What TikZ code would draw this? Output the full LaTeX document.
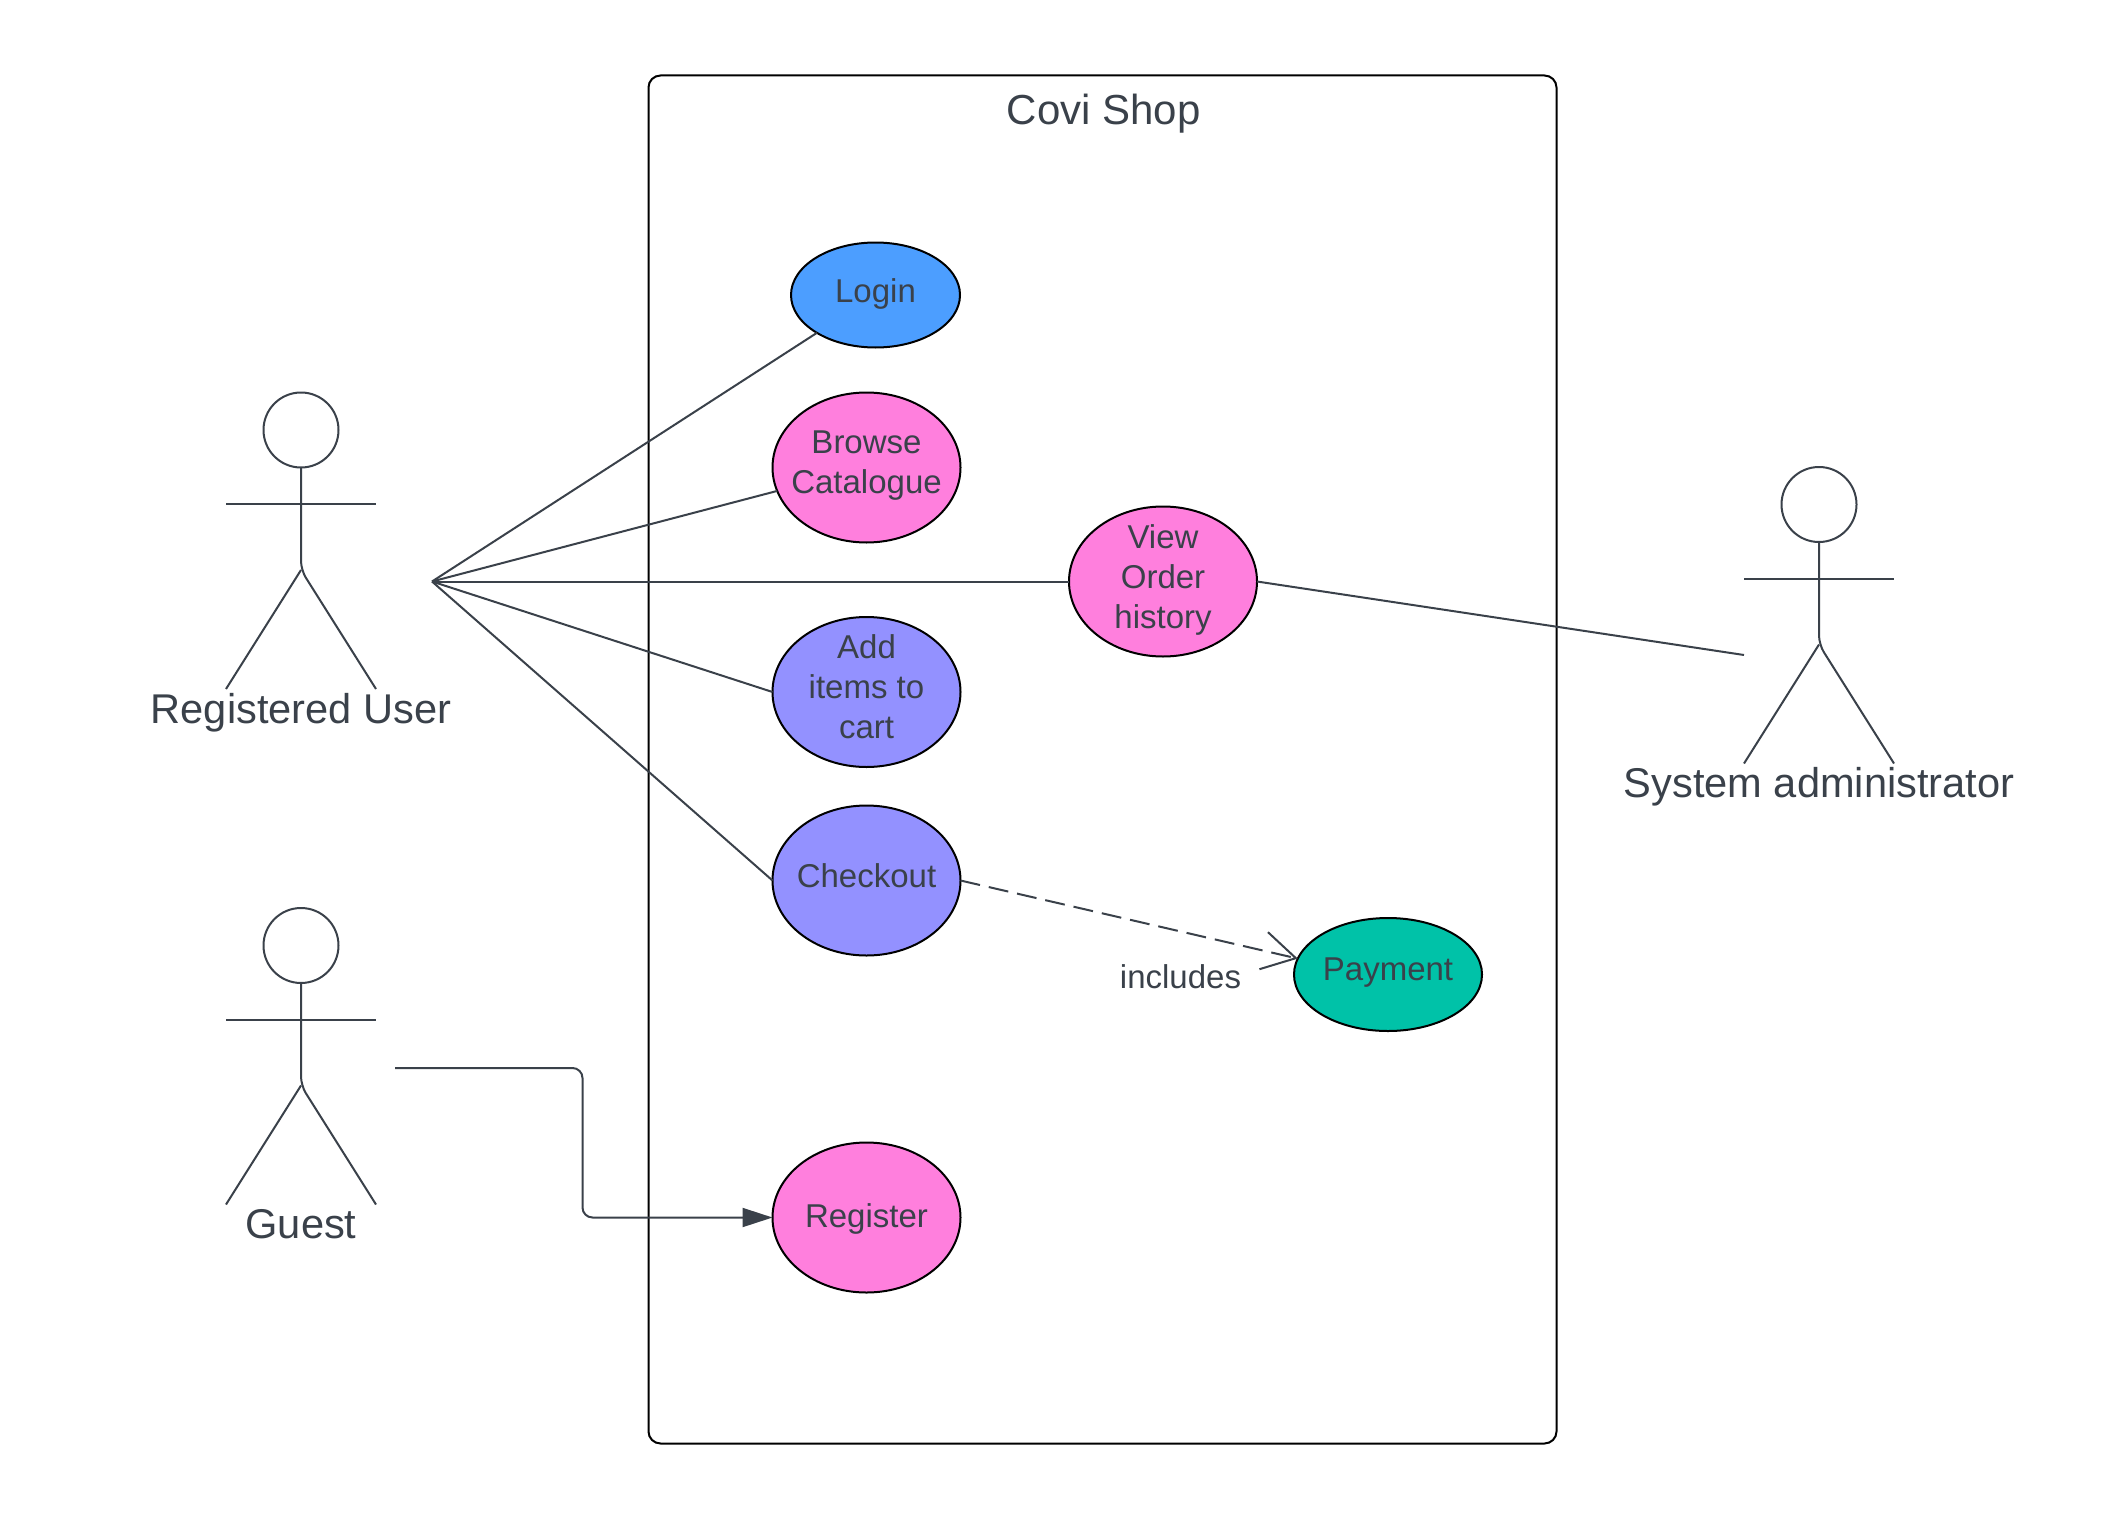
\documentclass[tikz,border=0pt]{standalone}
\usepackage{fontspec}
\setmainfont{Liberation Sans}
\usetikzlibrary{shapes.geometric,arrows.meta}
\definecolor{ink}{HTML}{3A414A}
\definecolor{pinkuc}{HTML}{FF7FDD}
\definecolor{blueuc}{HTML}{4C9EFF}
\definecolor{purpleuc}{HTML}{9391FF}
\definecolor{tealuc}{HTML}{00C2A8}
\newcommand\lineprop{\rule[-10pt]{0pt}{34pt}}
\newcommand\actor[4]{%
  \node[actorhead] (#1) at (#2,#3) {};
  \coordinate (#1hand1) at (#2-75,#3+74);
  \coordinate (#1hand2) at (#2+75,#3+74);
  \coordinate (#1hip) at (#2,#3+140);
  \coordinate (#1foot1) at (#2-75,#3+259);
  \coordinate (#1foot2) at (#2+75,#3+259);
  \draw[link] (#1hand1) -- (#1hand2);
  \draw[link,rounded corners=9] (#1.south) -- (#1hip) -- (#1foot2);
  \draw[link] (#1hip) -- (#1foot1);
  \node[actorname] (#1name) at (#2,#3+293) {#4};
}
\tikzset{
  link/.style={draw=ink,line width=2pt},
  usecase/.style={ellipse,draw=black,line width=2pt,inner sep=-40pt,outer sep=0pt,
    text=ink,align=center,font=\fontsize{33}{40}\selectfont,
    execute at begin node=\lineprop,execute at end node=\lineprop},
  actorhead/.style={circle,draw=ink,line width=2pt,minimum size=75pt,inner sep=0pt,outer sep=0pt},
  actorname/.style={anchor=base,text=ink,inner sep=0pt,font=\fontsize{41.6}{48}\selectfont},
  system/.style={draw=black,line width=2pt,rounded corners=12},
  title/.style={text=ink,inner sep=0pt,anchor=base,font=\fontsize{42}{48}\selectfont},
  edgelabel/.style={text=ink,inner sep=0pt,anchor=base,font=\fontsize{33}{40}\selectfont},
}
\begin{document}
\begin{tikzpicture}[x=1pt,y=-1pt]
\useasboundingbox (0,0) rectangle (2119,1517);
\draw[system] (648.5,75.5) rectangle (1556.5,1443.5);
\node[title] (shop) at (1103.8,125) {Covi Shop};
\node[usecase,fill=blueuc,minimum width=169pt,minimum height=105pt] (login) at (875.5,295) {Login};
\node[usecase,fill=pinkuc,minimum width=188pt,minimum height=150pt] (browse) at (866.5,467.5) {Browse\\Catalogue};
\node[usecase,fill=pinkuc,minimum width=188pt,minimum height=150pt] (view) at (1163,581.5) {View\\Order\\history};
\node[usecase,fill=purpleuc,minimum width=188pt,minimum height=150pt] (add) at (866.5,692) {Add\\items to\\cart};
\node[usecase,fill=purpleuc,minimum width=188pt,minimum height=150pt] (checkout) at (866.5,880.5) {Checkout};
\node[usecase,fill=tealuc,minimum width=188pt,minimum height=113pt] (payment) at (1388,974.5) {\raisebox{1.5pt}{Payment}};
\node[usecase,fill=pinkuc,minimum width=188pt,minimum height=150pt] (register) at (866.5,1217.5) {\raisebox{-2.5pt}{Register}};
\actor{reguser}{301}{430}{Registered User}
\actor{guest}{301}{945.5}{Guest}
\actor{sysadmin}{1819}{504.5}{System administrator}
\coordinate (hub) at (432,581.5);
\coordinate (adminend) at (1744,655);
\coordinate (guestout) at (395,1068);
\coordinate (elbow) at (582.5,1140);
\draw[link] (hub) -- (login);
\draw[link] (hub) -- (browse);
\draw[link] (hub) -- (view);
\draw[link] (hub) -- (add.west);
\draw[link] (hub) -- (checkout.west);
\draw[link] (view.east) -- (adminend);
\draw[link,rounded corners=10,-{Triangle[length=30pt,width=19pt]}] (guestout) -| (elbow) |- (register.west);
\draw[link,dash pattern=on 20pt off 9pt,-{Straight Barb[length=33pt,width=38pt,line width=2pt]}] (checkout.east) -- (payment.170);
\node[edgelabel] (includes) at (1180.5,988) {includes};
\end{tikzpicture}
\end{document}
